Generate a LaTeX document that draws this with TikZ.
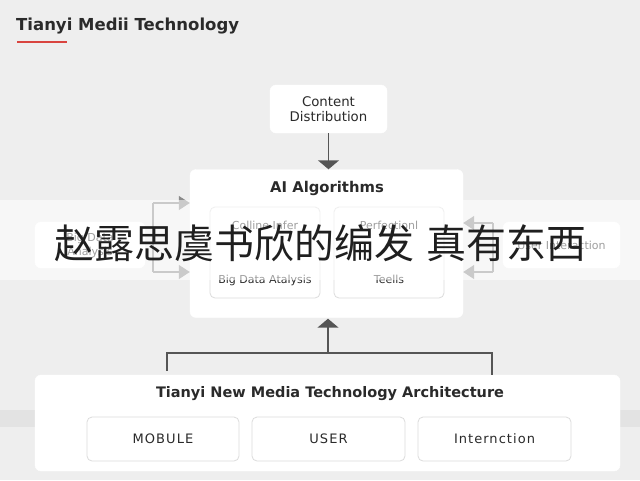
\documentclass[tikz,border=0pt]{standalone}
\usepackage{fontspec}
\setmainfont{DejaVu Sans}
\newfontfamily\cjk{Noto Sans CJK SC}
\usetikzlibrary{arrows.meta,shadows}
\definecolor{bg}{HTML}{EEEEEE}
\definecolor{bandgray}{HTML}{E3E3E3}
\definecolor{boxline}{HTML}{DCDCDC}
\definecolor{arrowgray}{HTML}{555555}
\definecolor{sidegray}{HTML}{8A8A8A}
\definecolor{txt}{HTML}{2A2A2A}
\definecolor{accent}{HTML}{D9443F}
\tikzset{
  panel/.style={fill=white, draw=white, rounded corners=6pt, inner sep=0pt},
  subbox/.style={fill=white, draw=boxline, line width=0.8pt, rounded corners=5pt, inner sep=0pt},
  label/.style={text=txt, inner sep=0pt, align=center},
  modtext/.style={font=\fontsize{13}{15}\selectfont\addfontfeatures{LetterSpace=8}, text=txt},
  flow/.style={draw=arrowgray, line width=1.6pt, -{Triangle[length=9pt,width=21pt]}},
  link/.style={draw=arrowgray, line width=1.6pt},
  sidelink/.style={draw=sidegray, line width=1.4pt},
  sideflow/.style={draw=sidegray, line width=1.4pt, -{Triangle[length=11pt,width=14pt]}}
}
\begin{document}
\begin{tikzpicture}[x=1pt,y=-1pt]
\useasboundingbox (0,0) rectangle (640,480);
\fill[bg] (0,0) rectangle (640,480);
\fill[bandgray] (0,410) rectangle (640,427);

% title
\node[label, anchor=west, font=\bfseries\fontsize{16.5}{19}\selectfont] (title) at (16,26) {Tianyi Medii Technology};
\coordinate (ulA) at (17,42);
\coordinate (ulB) at (67,42);
\draw[accent, line width=2pt] (ulA) -- (ulB);

% content distribution
\node[panel, minimum width=117pt, minimum height=48pt] (cd) at (328.5,109) {};
\node[label, font=\fontsize{13.3}{15.5}\selectfont] (cdt) at (cd.center) {Content\\Distribution};

% AI algorithms
\node[panel, minimum width=273pt, minimum height=148pt] (ai) at (326.5,243.5) {};
\node[label, font=\bfseries\fontsize{14.8}{17}\selectfont] (ait) at (327,188) {AI Algorithms};
\node[subbox, minimum width=110pt, minimum height=91pt] (ail) at (265,252.5) {};
\node[subbox, minimum width=110pt, minimum height=91pt] (air) at (389,252.5) {};
\node[label, font=\fontsize{11}{13}\selectfont] (ail1) at (265,225) {Colline Infer};
\node[label, font=\fontsize{11}{13}\selectfont] (ail2) at (265,280) {Big Data Atalysis};
\node[label, font=\fontsize{11}{13}\selectfont] (air1) at (389,225) {Perfectionl};
\node[label, font=\fontsize{11}{13}\selectfont] (air2) at (389,279) {Teells};

% side boxes
\node[panel, minimum width=110pt, minimum height=46pt] (lb) at (90,245) {};
\node[label, font=\fontsize{11}{14}\selectfont] (lbt) at (lb.center) {Big Data\\Analysis};
\node[panel, minimum width=117pt, minimum height=46pt] (rb) at (561.5,245) {};
\node[label, font=\fontsize{11}{14}\selectfont] (rbt) at (rb.center) {User Interaction};

% bottom architecture
\node[panel, minimum width=585pt, minimum height=96pt] (arch) at (327.5,423) {};
\node[label, font=\bfseries\fontsize{14.5}{17}\selectfont] (archt) at (330,394) {Tianyi New Media Technology Architecture};
\node[subbox, minimum width=152pt, minimum height=44pt, modtext] (m1) at (163,439) {MOBULE};
\node[subbox, minimum width=153pt, minimum height=44pt, modtext] (m2) at (328.5,439) {USER};
\node[subbox, minimum width=153pt, minimum height=44pt, modtext] (m3) at (494.5,439) {Internction};

% connectors
\draw[flow] (cd.south) -- (cd.south |- ai.north);
\coordinate (bl) at (167,353);
\coordinate (br) at (492,353);
\coordinate (bm) at (328,353);
\draw[link, shorten <=4pt] (bl |- arch.north) -- (bl) -- (br) -- (br |- arch.north);
\draw[flow, shorten >=1pt] (bm) -- (bm |- ai.south);

% left bracket
\coordinate (lt) at (153,203);
\coordinate (lbo) at (153,272);
\draw[sidelink] (lt) -- (lbo);
\draw[sideflow] (lt) -- (lt -| ai.west);
\draw[sideflow] (lbo) -- (lbo -| ai.west);
% right bracket
\coordinate (rt) at (493,223);
\coordinate (rbo) at (493,272);
\draw[sidelink] (rt) -- (rbo);
\draw[sideflow] (rt) -- (rt -| ai.east);
\draw[sideflow] (rbo) -- (rbo -| ai.east);

% overlay banner
\fill[white, opacity=0.55] (0,200) rectangle (640,280);
\node[inner sep=0pt, text=black!88, font=\cjk\fontsize{40}{42}\selectfont] (banner) at (320,243) {赵露思虞书欣的编发\hspace{0.3em}真有东西};
\end{tikzpicture}
\end{document}
